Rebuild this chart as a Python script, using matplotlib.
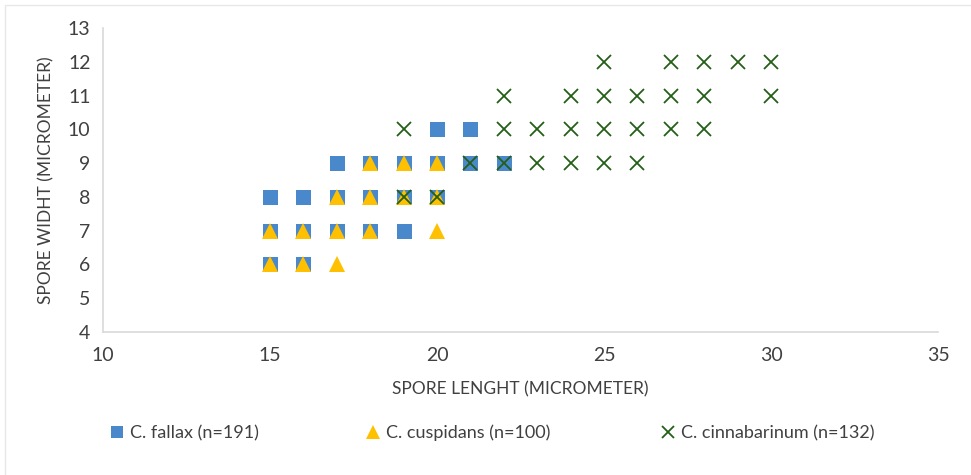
import matplotlib.pyplot as plt
from matplotlib.lines import Line2D
from matplotlib.patches import Rectangle

plt.rcParams['font.family'] = ['Lato', 'DejaVu Sans']

# C. fallax (squares)
fallax_x = [20, 21, 17, 18, 19, 20, 21, 22, 15, 16, 17, 18, 19, 20, 15, 16, 17, 18, 19, 15, 16]
fallax_y = [10, 10, 9, 9, 9, 9, 9, 9, 8, 8, 8, 8, 8, 8, 7, 7, 7, 7, 7, 6, 6]

# C. cuspidans (triangles)
cuspidans_x = [18, 19, 20, 17, 18, 19, 20, 15, 16, 17, 18, 20, 15, 16, 17]
cuspidans_y = [9, 9, 9, 8, 8, 8, 8, 7, 7, 7, 7, 7, 6, 6, 6]

# C. cinnabarinum (crosses)
cinna_x = [25, 27, 28, 29, 30,
           22, 24, 25, 26, 27, 28, 30,
           19, 22, 23, 24, 25, 26, 27, 28,
           21, 22, 23, 24, 25, 26,
           19, 20]
cinna_y = [12, 12, 12, 12, 12,
           11, 11, 11, 11, 11, 11, 11,
           10, 10, 10, 10, 10, 10, 10, 10,
           9, 9, 9, 9, 9, 9,
           8, 8]

labels = ['C. fallax (n=191)', 'C. cuspidans (n=100)', 'C. cinnabarinum (n=132)']
blue = '#4A88CC'
yellow = '#FFC000'
green = '#255E17'

fig = plt.figure(figsize=(9.71, 4.75), dpi=100)
fig.patches.append(Rectangle((5 / 971, -0.1), 1.2, 1 - 5 / 475 + 0.1, transform=fig.transFigure,
                             fill=False, edgecolor='#e8e8e8', linewidth=1))
ax = fig.add_axes([103 / 971, 1 - 332 / 475, (938 - 103) / 971, (332 - 28) / 475])

ax.plot(fallax_x, fallax_y, linestyle='none', marker='s', markersize=10.8,
        color=blue, markeredgewidth=0)
ax.plot(cuspidans_x, cuspidans_y, linestyle='none', marker='^', markersize=11,
        color=yellow, markeredgewidth=0)
ax.plot(cinna_x, cinna_y, linestyle='none', marker='x', markersize=10,
        color=green, markeredgewidth=1.3)

ax.set_xlim(10, 35)
ax.set_ylim(4, 13)
ax.set_xticks(range(10, 36, 5))
ax.set_yticks(range(4, 14))
ax.tick_params(length=0, labelsize=14, colors='#404040', pad=9)
ax.tick_params(axis='x', pad=11)
for s in ['top', 'right']:
    ax.spines[s].set_visible(False)
for s in ['left', 'bottom']:
    ax.spines[s].set_color('#d9d9d9')
    ax.spines[s].set_linewidth(1.2)

ax.set_xlabel('SPORE LENGHT (MICROMETER)', fontsize=12.5, color='#404040', labelpad=12)
ax.set_ylabel('SPORE WIDHT (MICROMETER)', fontsize=12.5, color='#404040', labelpad=10)

handles = [
    Line2D([], [], linestyle='none', marker='s', markersize=9, color=blue, markeredgewidth=0),
    Line2D([], [], linestyle='none', marker='^', markersize=10, color=yellow, markeredgewidth=0),
    Line2D([], [], linestyle='none', marker='x', markersize=9, color=green, markeredgewidth=1.3),
]
legend_x = [110, 366, 661]
for h, lab, lx in zip(handles, labels, legend_x):
    fig.legend([h], [lab], loc='center left', bbox_to_anchor=(lx / 971, 1 - 433 / 475),
               frameon=False, fontsize=13, handlelength=0.8, handletextpad=0.3,
               labelcolor='#404040', borderaxespad=0, borderpad=0)

fig.savefig('out.png', dpi=100)
